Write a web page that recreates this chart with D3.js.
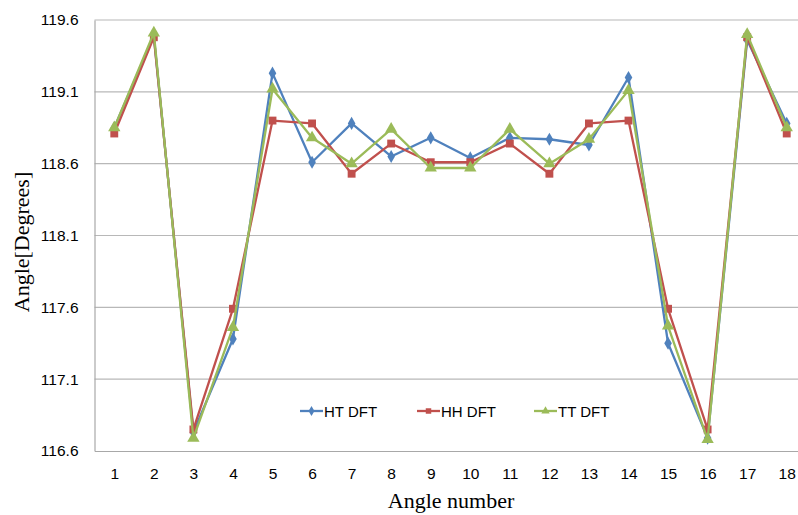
<!DOCTYPE html>
<html>
<head>
<meta charset="utf-8">
<script src="https://cdn.jsdelivr.net/npm/d3@7"></script>
<style>
  html, body { margin: 0; padding: 0; background: #fff; }
  svg { display: block; }
</style>
</head>
<body>
<svg id="chart" width="798" height="515"></svg>
<script>
// Angle numbers along the x axis
const angleNumbers = d3.range(1, 19);
// Y-axis tick values (degrees)
const yTicks = [116.6, 117.1, 117.6, 118.1, 118.6, 119.1, 119.6];

// Computed bond angles per series
const htDFT = [118.85, 119.49, 116.73, 117.38, 119.23, 118.61, 118.88, 118.65, 118.78,
               118.64, 118.78, 118.77, 118.73, 119.20, 117.35, 116.69, 119.46, 118.88];
const hhDFT = [118.81, 119.48, 116.75, 117.59, 118.90, 118.88, 118.53, 118.74, 118.61,
               118.61, 118.74, 118.53, 118.88, 118.90, 117.59, 116.75, 119.48, 118.81];
const ttDFT = [118.85, 119.51, 116.69, 117.46, 119.12, 118.78, 118.60, 118.84, 118.57,
               118.57, 118.84, 118.60, 118.77, 119.11, 117.47, 116.68, 119.50, 118.85];

const seriesNames = ["HT DFT", "HH DFT", "TT DFT"];
const seriesData = [htDFT, hhDFT, ttDFT];
const colors = ["#4F81BD", "#C0504D", "#9BBB59"];
const markers = ["diamond", "square", "triangle"];

const svg = d3.select("#chart");
const plotLeft = 94.5, plotRight = 806.5, plotTop = 20, plotBottom = 451;

const x = d3.scalePoint().domain(angleNumbers).range([plotLeft, plotRight]).padding(0.5);
const y = d3.scaleLinear().domain([116.6, 119.6]).range([plotBottom, plotTop]);

// Horizontal gridlines
svg.append("g")
  .selectAll("line")
  .data(yTicks.slice(1))
  .join("line")
  .attr("x1", plotLeft).attr("x2", plotRight)
  .attr("y1", d => y(d)).attr("y2", d => y(d))
  .attr("stroke", "#b8b8b8").attr("stroke-width", 1.2);

// Y axis
const yAxis = svg.append("g")
  .attr("transform", `translate(${plotLeft},0)`)
  .call(d3.axisLeft(y).tickValues(yTicks).tickFormat(d3.format(".1f")).tickSize(0).tickPadding(16));
yAxis.select(".domain").attr("stroke", "#a8a8a8").attr("stroke-width", 1.2);
yAxis.selectAll("text")
  .attr("font-family", "Liberation Sans, Arial, sans-serif")
  .attr("font-size", 15.5).attr("fill", "#000");

// X axis
const xAxis = svg.append("g")
  .attr("transform", `translate(0,${plotBottom})`)
  .call(d3.axisBottom(x).tickSize(0).tickPadding(17));
xAxis.select(".domain").attr("stroke", "#a8a8a8").attr("stroke-width", 1.2);
xAxis.selectAll("text")
  .attr("font-family", "Liberation Sans, Arial, sans-serif")
  .attr("font-size", 15.5).attr("fill", "#000");

// Axis titles
svg.append("text")
  .attr("x", 451).attr("y", 508)
  .attr("text-anchor", "middle")
  .attr("font-family", "Liberation Serif, Times New Roman, serif")
  .attr("font-size", 22)
  .text("Angle number");

svg.append("text")
  .attr("transform", "translate(29,242) rotate(-90)")
  .attr("text-anchor", "middle")
  .attr("font-family", "Liberation Serif, Times New Roman, serif")
  .attr("font-size", 22)
  .text("Angle[Degrees]");

// Marker shapes
const symbolType = { diamond: d3.symbolDiamond, square: d3.symbolSquare, triangle: d3.symbolTriangle };
const symbolSize = { diamond: 50, square: 62, triangle: 66 };

const line = d3.line()
  .x((d, i) => x(angleNumbers[i]))
  .y(d => y(d));

seriesData.forEach((vals, s) => {
  const g = svg.append("g");
  g.append("path")
    .datum(vals)
    .attr("d", line)
    .attr("fill", "none")
    .attr("stroke", colors[s])
    .attr("stroke-width", 2.3)
    .attr("stroke-linejoin", "round");
  g.selectAll("path.mk")
    .data(vals)
    .join("path")
    .attr("class", "mk")
    .attr("transform", (d, i) => `translate(${x(angleNumbers[i])},${y(d)})`)
    .attr("d", d3.symbol().type(symbolType[markers[s]]).size(symbolSize[markers[s]])())
    .attr("fill", colors[s]);
});

// Legend
const legendX = [300, 417, 534];
const legendY = 411;
seriesNames.forEach((name, s) => {
  const g = svg.append("g").attr("transform", `translate(${legendX[s]},${legendY})`);
  g.append("line").attr("x1", 0).attr("x2", 23).attr("y1", 0).attr("y2", 0)
    .attr("stroke", colors[s]).attr("stroke-width", 2.3);
  g.append("path").attr("transform", "translate(11.5,0)")
    .attr("d", d3.symbol().type(symbolType[markers[s]]).size(30)())
    .attr("fill", colors[s]);
  g.append("text").attr("x", 24).attr("y", 5.5)
    .attr("font-family", "Liberation Sans, Arial, sans-serif")
    .attr("font-size", 15)
    .text(name);
});
</script>
</body>
</html>
